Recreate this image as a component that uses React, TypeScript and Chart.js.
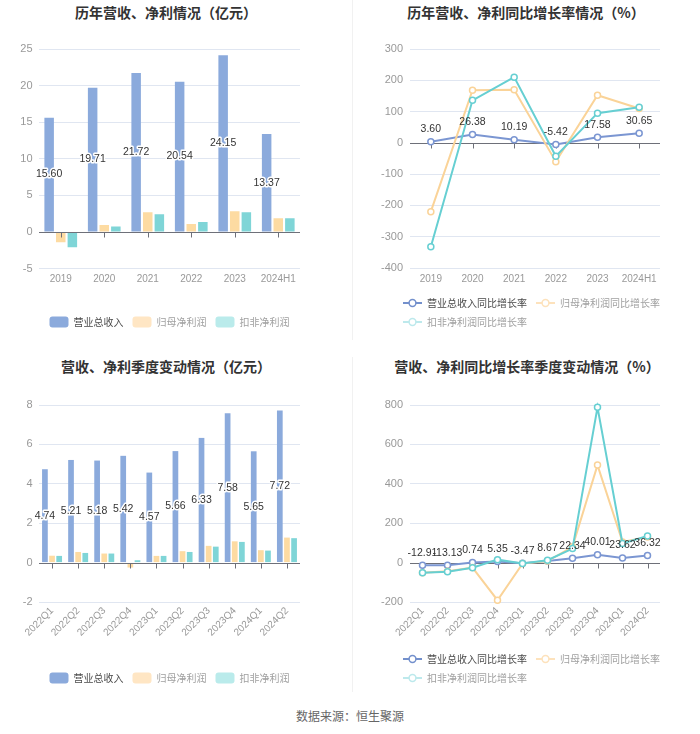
import React, { useEffect, useRef } from 'react';
import { Chart, registerables } from 'chart.js';

Chart.register(...registerables);

const NUM_FONT = '"Liberation Sans", Arial, "Noto Sans CJK SC", sans-serif';
const CJK_FONT = '"Noto Sans CJK SC", "Liberation Sans", sans-serif';

// ---------- data ----------
const yearCategories = ['2019', '2020', '2021', '2022', '2023', '2024H1'];
const yearRevenue = [15.6, 19.71, 21.72, 20.54, 24.15, 13.37];
const yearNetProfit = [-1.41, 0.95, 2.68, 1.09, 2.82, 1.86];
const yearDeductedProfit = [-2.09, 0.73, 2.4, 1.36, 2.68, 1.86];

const yearRevenueGrowth = [3.6, 26.38, 10.19, -5.42, 17.58, 30.65];
const yearNetProfitGrowth = [-220, 168, 170, -60, 152, 110];
const yearDeductedGrowth = [-332, 136, 210, -43, 95, 114];

const quarterCategories = ['2022Q1', '2022Q2', '2022Q3', '2022Q4', '2023Q1', '2023Q2', '2023Q3', '2023Q4', '2024Q1', '2024Q2'];
const quarterRevenue = [4.74, 5.21, 5.18, 5.42, 4.57, 5.66, 6.33, 7.58, 5.65, 7.72];
const quarterNetProfit = [0.35, 0.54, 0.46, -0.25, 0.34, 0.58, 0.85, 1.08, 0.63, 1.27];
const quarterDeductedProfit = [0.34, 0.49, 0.46, 0.12, 0.34, 0.54, 0.81, 1.05, 0.61, 1.24];

const quarterRevenueGrowth = [-12.91, -13.13, 0.74, 5.35, -3.47, 8.67, 22.34, 40.01, 23.62, 36.32];
const quarterNetProfitGrowth = [-52, -44, -25, -191, -5, 8, 80, 495, 105, 130];
const quarterDeductedGrowth = [-52, -46, -26, 15, -5, 12, 71, 788, 97, 135];

const barSeriesNames = ['营业总收入', '归母净利润', '扣非净利润'];
const lineSeriesNames = ['营业总收入同比增长率', '归母净利润同比增长率', '扣非净利润同比增长率'];

const titles = ['历年营收、净利情况（亿元）', '历年营收、净利同比增长率情况（%）', '营收、净利季度变动情况（亿元）', '营收、净利同比增长率季度变动情况（%）'];
const sourceText = '数据来源：恒生聚源';

// ---------- styles ----------
const BAR_COLORS = ['#8BAADC', '#FDDBA2', '#7FD5D7'];
const BAR_LEGEND_COLORS = ['#8BAADC', '#FFE6C4', '#BAEBEB'];
const LINE_COLORS = ['#7B96D2', '#FAD398', '#66CFD2'];
const LINE_LEGEND_COLORS = ['#7390CC', '#FDE2BC', '#BDE9EC'];
const LEGEND_TEXT = ['#4A4A4A', '#A0A0A0', '#A0A0A0'];
const GRID = '#E0E6F1';
const AXIS = '#6E7079';
const Y_TICK_SIZE = 11;

function makeLineIcon(color: string) {
  const c = document.createElement('canvas');
  c.width = 19;
  c.height = 10;
  const g = c.getContext('2d')!;
  g.strokeStyle = color;
  g.lineWidth = 2;
  g.beginPath();
  g.moveTo(0, 5);
  g.lineTo(19, 5);
  g.stroke();
  g.beginPath();
  g.arc(9.5, 5, 3.4, 0, Math.PI * 2);
  g.fillStyle = '#fff';
  g.fill();
  g.lineWidth = 1.5;
  g.stroke();
  return c;
}

// widest y tick label (used to right-align mirrored labels)
function widestTick(min: number, max: number, step: number) {
  const c = document.createElement('canvas');
  const g = c.getContext('2d')!;
  g.font = 'normal ' + Y_TICK_SIZE + 'px ' + NUM_FONT;
  let w = 0;
  for (let v = min; v <= max; v += step) {
    w = Math.max(w, g.measureText(String(v)).width);
  }
  return w;
}

function zeroLinePlugin(after: boolean) {
  const draw = (chart: any) => {
    const { ctx, chartArea, scales } = chart;
    const x = scales.x;
    const y = scales.y;
    const y0 = Math.round(y.getPixelForValue(0)) + 0.5;
    ctx.save();
    ctx.strokeStyle = AXIS;
    ctx.lineWidth = 1;
    ctx.beginPath();
    ctx.moveTo(chartArea.left, y0);
    ctx.lineTo(chartArea.right, y0);
    for (let i = 0; i < x.ticks.length; i++) {
      const px = Math.round(x.getPixelForTick(i)) + 0.5;
      ctx.moveTo(px, y0);
      ctx.lineTo(px, y0 + 5);
    }
    ctx.stroke();
    ctx.restore();
  };
  return after
    ? { id: 'zeroLineA', afterDatasetsDraw: draw }
    : { id: 'zeroLineB', beforeDatasetsDraw: draw };
}

const barLabelPlugin = {
  id: 'barLabels',
  afterDatasetsDraw(chart: any) {
    const { ctx } = chart;
    const meta = chart.getDatasetMeta(0);
    const values = chart.data.datasets[0].data as number[];
    ctx.save();
    ctx.font = '10.5px ' + NUM_FONT;
    ctx.textAlign = 'center';
    ctx.textBaseline = 'middle';
    ctx.lineJoin = 'round';
    meta.data.forEach((el: any, i: number) => {
      const cy = (el.y + el.base) / 2;
      const t = values[i].toFixed(2);
      ctx.lineWidth = 3;
      ctx.strokeStyle = '#fff';
      ctx.strokeText(t, el.x, cy);
      ctx.fillStyle = '#333';
      ctx.fillText(t, el.x, cy);
    });
    ctx.restore();
  },
};

const lineLabelPlugin = {
  id: 'lineLabels',
  afterDatasetsDraw(chart: any) {
    const { ctx } = chart;
    const meta = chart.getDatasetMeta(0);
    const values = chart.data.datasets[0].data as number[];
    ctx.save();
    ctx.font = '10.5px ' + NUM_FONT;
    ctx.textAlign = 'center';
    ctx.textBaseline = 'middle';
    ctx.fillStyle = '#333';
    meta.data.forEach((el: any, i: number) => {
      ctx.fillText(values[i].toFixed(2), el.x, el.y - 12.5);
    });
    ctx.restore();
  },
};

function yScale(min: number, max: number, step: number, width: number, gap: number, mirror: boolean) {
  const ticks: any = { stepSize: step, color: '#999', font: { size: Y_TICK_SIZE, family: NUM_FONT }, padding: gap };
  if (mirror) {
    ticks.mirror = true;
    ticks.crossAlign = 'far';
    ticks.padding = -(widestTick(min, max, step) + gap);
  }
  return {
    type: 'linear',
    position: 'left',
    min,
    max,
    ticks,
    grid: {
      color: (c: any) => (c.tick && c.tick.value === 0 ? 'rgba(0,0,0,0)' : GRID),
      drawTicks: false,
      lineWidth: 1,
    },
    border: { display: false },
    afterFit: (s: any) => {
      s.width = width;
    },
  };
}

function xScale(height: number, rotate: boolean) {
  return {
    type: 'category',
    offset: true,
    grid: { display: false, drawTicks: false },
    border: { display: false },
    ticks: {
      color: '#999',
      font: { size: 10, family: NUM_FONT },
      padding: rotate ? 3 : 5,
      autoSkip: false,
      maxRotation: rotate ? 45 : 0,
      minRotation: rotate ? 45 : 0,
    },
    afterFit: (s: any) => {
      s.height = height;
    },
  };
}

const dummyRight = {
  type: 'linear',
  position: 'right',
  min: 0,
  max: 1,
  display: true,
  grid: { display: false, drawTicks: false },
  border: { display: false },
  ticks: { display: false },
  afterFit: (s: any) => {
    s.width = 40;
  },
};

function barConfig(opts: any): any {
  return {
    type: 'bar',
    data: {
      labels: opts.categories,
      datasets: opts.series.map((d: number[], i: number) => ({
        label: barSeriesNames[i],
        data: d,
        backgroundColor: BAR_COLORS[i],
        borderWidth: 0,
        categoryPercentage: opts.cp,
        barPercentage: opts.bp,
      })),
    },
    options: {
      responsive: false,
      animation: false,
      devicePixelRatio: 1,
      events: [],
      layout: { padding: opts.padding },
      scales: {
        x: xScale(opts.xHeight, opts.rotate),
        y: yScale(opts.min, opts.max, opts.step, 39, 6.5, false),
      },
      plugins: {
        title: { display: false },
        tooltip: { enabled: false },
        legend: {
          display: true,
          position: 'bottom',
          align: 'center',
          fullSize: false,
          labels: {
            boxWidth: 19,
            boxHeight: 11,
            padding: 9,
            font: { size: 10, family: CJK_FONT },
            generateLabels: () =>
              barSeriesNames.map((n, i) => ({
                text: n,
                fillStyle: BAR_LEGEND_COLORS[i],
                strokeStyle: BAR_LEGEND_COLORS[i],
                lineWidth: 0,
                fontColor: LEGEND_TEXT[i],
                borderRadius: 3,
                hidden: false,
                datasetIndex: i,
              })),
          },
        },
      },
    },
    plugins: [zeroLinePlugin(true), barLabelPlugin],
  };
}

function lineConfig(opts: any): any {
  const icons = LINE_LEGEND_COLORS.map((c) => makeLineIcon(c));
  return {
    type: 'line',
    data: {
      labels: opts.categories,
      datasets: opts.series.map((d: number[], i: number) => ({
        label: lineSeriesNames[i],
        data: d,
        borderColor: LINE_COLORS[i],
        backgroundColor: LINE_COLORS[i],
        borderWidth: 2,
        tension: 0,
        fill: false,
        pointRadius: 3,
        pointHoverRadius: 3,
        pointBorderWidth: 1.5,
        pointBackgroundColor: '#fff',
        pointBorderColor: LINE_COLORS[i],
        order: 2 - i,
        clip: false,
      })),
    },
    options: {
      responsive: false,
      animation: false,
      devicePixelRatio: 1,
      events: [],
      layout: { padding: opts.padding },
      scales: {
        x: xScale(opts.xHeight, opts.rotate),
        y: yScale(opts.min, opts.max, opts.step, 16, 7, true),
        yR: dummyRight,
      },
      plugins: {
        title: { display: false },
        tooltip: { enabled: false },
        legend: {
          display: true,
          position: 'bottom',
          align: 'start',
          labels: {
            usePointStyle: true,
            pointStyleWidth: 19,
            padding: 9,
            font: { size: 10, family: CJK_FONT },
            generateLabels: () =>
              lineSeriesNames.map((n, i) => ({
                text: n,
                fillStyle: LINE_LEGEND_COLORS[i],
                strokeStyle: LINE_LEGEND_COLORS[i],
                lineWidth: 0,
                fontColor: LEGEND_TEXT[i],
                pointStyle: icons[i],
                hidden: false,
                datasetIndex: i,
              })),
          },
        },
      },
    },
    plugins: [zeroLinePlugin(false), lineLabelPlugin],
  };
}

function ChartBox(props: { left: number; top: number; width: number; height: number; build: () => any }) {
  const ref = useRef<HTMLCanvasElement>(null);
  useEffect(() => {
    const chart = new Chart(ref.current as HTMLCanvasElement, props.build());
    return () => chart.destroy();
  }, []);
  return (
    <canvas
      ref={ref}
      width={props.width}
      height={props.height}
      style={{ position: 'absolute', left: props.left, top: props.top, width: props.width, height: props.height }}
    />
  );
}

function Title(props: { text: string; cx: number; cy: number }) {
  return (
    <div
      style={{
        position: 'absolute',
        left: props.cx - 200,
        top: props.cy - 10,
        width: 400,
        height: 20,
        lineHeight: '20px',
        textAlign: 'center',
        fontFamily: CJK_FONT,
        fontWeight: 'bold',
        fontSize: 14,
        color: '#333',
        whiteSpace: 'nowrap',
      }}
    >
      {props.text}
    </div>
  );
}

export default function App() {
  return (
    <div style={{ position: 'absolute', left: 0, top: 0, width: 700, height: 734, background: '#fff', overflow: 'hidden' }}>
      <div style={{ position: 'absolute', left: 352, top: 0, width: 1, height: 340, background: '#F1F1F1' }} />
      <div style={{ position: 'absolute', left: 352, top: 357, width: 1, height: 335, background: '#F1F1F1' }} />

      <Title text={titles[0]} cx={166} cy={12} />
      <Title text={titles[1]} cx={526} cy={12} />
      <Title text={titles[2]} cx={166} cy={366} />
      <Title text={titles[3]} cx={527} cy={366} />

      <ChartBox
        left={0}
        top={0}
        width={350}
        height={345}
        build={() =>
          barConfig({
            categories: yearCategories,
            series: [yearRevenue, yearNetProfit, yearDeductedProfit],
            min: -5,
            max: 25,
            step: 5,
            cp: 0.8,
            bp: 0.82,
            rotate: false,
            xHeight: 39,
            padding: { left: 0, right: 50, top: 49, bottom: 7.5 },
          })
        }
      />
      <ChartBox
        left={350}
        top={0}
        width={350}
        height={345}
        build={() =>
          lineConfig({
            categories: yearCategories,
            series: [yearRevenueGrowth, yearNetProfitGrowth, yearDeductedGrowth],
            min: -400,
            max: 300,
            step: 100,
            rotate: false,
            xHeight: 21,
            padding: { left: 44, right: 0, top: 49, bottom: 8 },
          })
        }
      />
      <ChartBox
        left={0}
        top={350}
        width={350}
        height={350}
        build={() =>
          barConfig({
            categories: quarterCategories,
            series: [quarterRevenue, quarterNetProfit, quarterDeductedProfit],
            min: -2,
            max: 8,
            step: 2,
            cp: 0.82,
            bp: 0.8,
            rotate: true,
            xHeight: 61.5,
            padding: { left: 0, right: 50, top: 55, bottom: 6.5 },
          })
        }
      />
      <ChartBox
        left={350}
        top={350}
        width={350}
        height={350}
        build={() =>
          lineConfig({
            categories: quarterCategories,
            series: [quarterRevenueGrowth, quarterNetProfitGrowth, quarterDeductedGrowth],
            min: -200,
            max: 800,
            step: 200,
            rotate: true,
            xHeight: 43,
            padding: { left: 44, right: 0, top: 55, bottom: 7 },
          })
        }
      />

      <div
        style={{
          position: 'absolute',
          left: 200,
          top: 706,
          width: 300,
          height: 20,
          lineHeight: '20px',
          textAlign: 'center',
          fontFamily: CJK_FONT,
          fontSize: 12,
          color: '#666',
        }}
      >
        {sourceText}
      </div>
    </div>
  );
}
